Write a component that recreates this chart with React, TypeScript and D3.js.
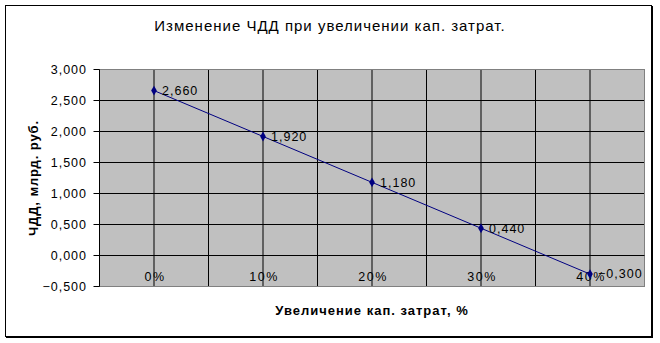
import React from "react";
import * as d3 from "d3";

const categories = ["0%", "10%", "20%", "30%", "40%"];
const categoryValues = [0, 10, 20, 30, 40];
const npvValues = [2.66, 1.92, 1.18, 0.44, -0.3];
const yTicks = [-0.5, 0, 0.5, 1, 1.5, 2, 2.5, 3];
const title = "Изменение ЧДД при увеличении кап. затрат.";
const yTitle = "ЧДД, млрд. руб.";
const xTitle = "Увеличение кап. затрат, %";

const fmt = (v: number) => d3.format(",.3f")(v).replace(".", ",");

export default function App() {
  const W = 660, H = 343;
  const left = 99.5, right = 644.5, top = 69.5, bottom = 286.5;
  const x = d3.scaleLinear().domain([-5, 45]).range([left, right]);
  const y = d3.scaleLinear().domain([-0.5, 3]).range([bottom, top]);
  const gridX = d3.range(-5, 46, 5);
  const line = d3.line<number>().x((_, i) => x(categoryValues[i])).y((d) => y(d));
  const font = "'Liberation Sans', Arial, sans-serif";
  const diamond = d3.symbol().type(d3.symbolDiamond).size(28)();
  return (
    <svg width={W} height={H} style={{ position: "absolute", left: 0, top: 0, display: "block" }} fontFamily={font}>
      <rect x={0} y={0} width={W} height={H} fill="#fff" />
      <rect x={5.5} y={5.5} width={646} height={331} fill="#fff" stroke="#000" strokeWidth={1} />
      <line x1={652.5} y1={6} x2={652.5} y2={338} stroke="#000" />
      <line x1={6} y1={337.5} x2={653} y2={337.5} stroke="#000" />
      <text x={330} y={31} textAnchor="middle" fontSize={15} letterSpacing={1} fill="#000">{title}</text>
      <rect x={left} y={top} width={right - left} height={bottom - top} fill="#c0c0c0" stroke="#808080" />
      {yTicks.map((t) => (
        <line key={"h" + t} x1={left} x2={right} y1={y(t)} y2={y(t)} stroke="#000" />
      ))}
      {gridX.map((g) => (
        <line key={"v" + g} x1={x(g)} x2={x(g)} y1={top} y2={bottom} stroke="#000" />
      ))}
      <rect x={left} y={top} width={right - left} height={bottom - top} fill="none" stroke="#808080" />
      <line x1={left} x2={left} y1={top} y2={bottom} stroke="#000" />
      {yTicks.map((t) => (
        <g key={"t" + t}>
          <line x1={left - 6} x2={left} y1={y(t)} y2={y(t)} stroke="#000" />
          <text x={87} y={y(t)} dy="0.35em" textAnchor="end" fontSize={12.5} letterSpacing={1} fill="#000">{fmt(t)}</text>
        </g>
      ))}
      <line x1={left} x2={right} y1={y(0)} y2={y(0)} stroke="#000" />
      {categories.map((c, i) => (
        <text key={c} x={x(categoryValues[i]) + 1} y={281} textAnchor="middle" fontSize={12.5} letterSpacing={1.5} fill="#000">{c}</text>
      ))}
      <path d={line(npvValues) || ""} fill="none" stroke="#000080" strokeWidth={1} />
      {npvValues.map((v, i) => (
        <g key={"p" + i}>
          <path d={diamond || ""} transform={`translate(${x(categoryValues[i])},${y(v)})`} fill="#000080" />
          <text x={x(categoryValues[i]) + 8} y={y(v)} dy="0.35em" fontSize={12.5} letterSpacing={1} fill="#000">{fmt(v)}</text>
        </g>
      ))}
      <text transform={`translate(38,${(top + bottom) / 2}) rotate(-90)`} textAnchor="middle" fontSize={13} letterSpacing={0.9} fontWeight="bold" fill="#000">{yTitle}</text>
      <text x={(left + right) / 2} y={315} textAnchor="middle" fontSize={13} letterSpacing={1} fontWeight="bold" fill="#000">{xTitle}</text>
    </svg>
  );
}
